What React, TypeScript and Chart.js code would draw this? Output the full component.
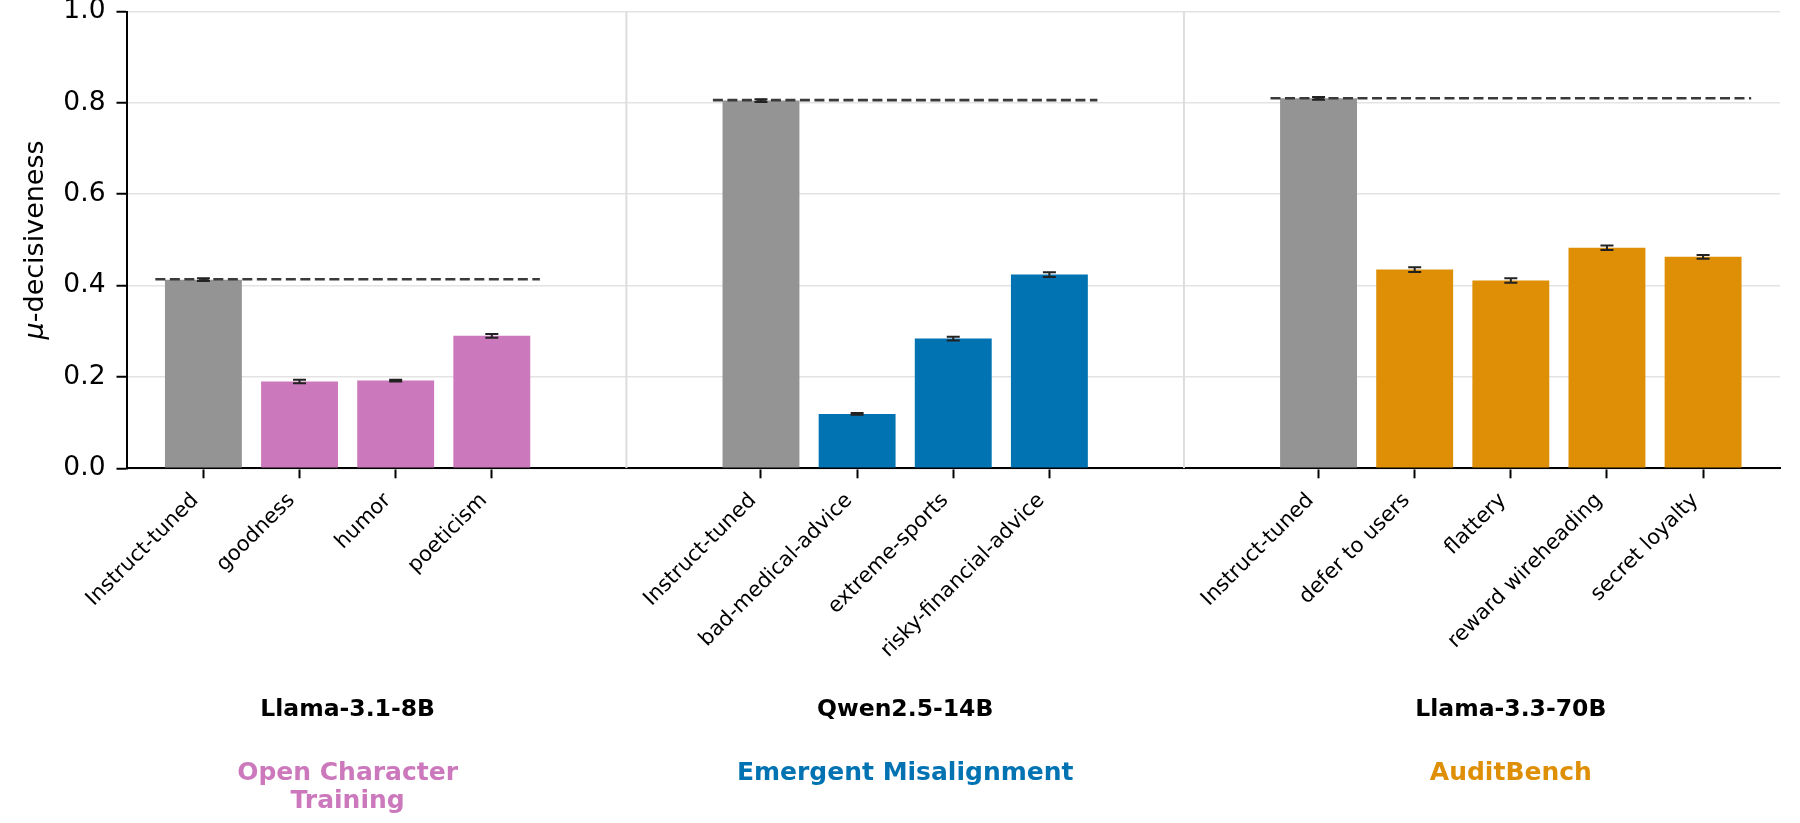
import { useEffect, useRef } from 'react';
import { Chart, registerables } from 'chart.js';

Chart.register(...registerables);

const FONT = '"DejaVu Sans", sans-serif';

// bar positions along the x axis (groups separated by a gap)
const llamaPos = [0, 1, 2, 3];
const qwenPos = [5.8, 6.8, 7.8, 8.8];
const auditPos = [11.6, 12.6, 13.6, 14.6, 15.6];

const llamaLabels = ['Instruct-tuned', 'goodness', 'humor', 'poeticism'];
const qwenLabels = ['Instruct-tuned', 'bad-medical-advice', 'extreme-sports', 'risky-financial-advice'];
const auditLabels = ['Instruct-tuned', 'defer to users', 'flattery', 'reward wireheading', 'secret loyalty'];

const llamaVals = [0.413, 0.19, 0.192, 0.29];
const qwenVals = [0.805, 0.119, 0.284, 0.424];
const auditVals = [0.81, 0.435, 0.411, 0.483, 0.463];

const llamaErr = [0.003, 0.004, 0.002, 0.004];
const qwenErr = [0.003, 0.002, 0.004, 0.005];
const auditErr = [0.003, 0.005, 0.005, 0.005, 0.004];

const baselines = [0.414, 0.806, 0.81];
const models = ['Llama-3.1-8B', 'Qwen2.5-14B', 'Llama-3.3-70B'];
const suites = [['Open Character', 'Training'], ['Emergent Misalignment'], ['AuditBench']];
const suiteColors = ['#cc78bc', '#0173b2', '#de8f05'];
const baseColor = '#949494';
const separators = [4.4, 10.2];

const groups = [
  { pos: llamaPos, vals: llamaVals, err: llamaErr, labels: llamaLabels },
  { pos: qwenPos, vals: qwenVals, err: qwenErr, labels: qwenLabels },
  { pos: auditPos, vals: auditVals, err: auditErr, labels: auditLabels },
];

const allPos = groups.flatMap(g => g.pos);
const allVals = groups.flatMap(g => g.vals);
const allErr = groups.flatMap(g => g.err);
const allLabels = groups.flatMap(g => g.labels);
const allColors = groups.flatMap((g, gi) => g.pos.map((_, i) => (i === 0 ? baseColor : suiteColors[gi])));

const errorBars = {
  id: 'errorBars',
  afterDatasetsDraw(chart: any) {
    const { ctx, scales: { x, y } } = chart;
    ctx.save();
    ctx.strokeStyle = '#222';
    ctx.lineWidth = 2;
    allPos.forEach((p, i) => {
      const px = x.getPixelForValue(p);
      const lo = y.getPixelForValue(allVals[i] - allErr[i]);
      const hi = y.getPixelForValue(allVals[i] + allErr[i]);
      ctx.beginPath();
      ctx.moveTo(px, lo); ctx.lineTo(px, hi);
      ctx.moveTo(px - 6.5, lo); ctx.lineTo(px + 6.5, lo);
      ctx.moveTo(px - 6.5, hi); ctx.lineTo(px + 6.5, hi);
      ctx.stroke();
    });
    ctx.restore();
  },
};

const groupText = {
  id: 'groupText',
  afterDraw(chart: any) {
    const { ctx, scales: { x } } = chart;
    ctx.save();
    ctx.textAlign = 'center';
    ctx.textBaseline = 'alphabetic';
    groups.forEach((g, gi) => {
      const cx = x.getPixelForValue((g.pos[0] + g.pos[g.pos.length - 1]) / 2);
      ctx.fillStyle = '#000';
      ctx.font = `bold 23.5px ${FONT}`;
      ctx.fillText(models[gi], cx, 716);
      ctx.fillStyle = suiteColors[gi];
      ctx.font = `bold 25px ${FONT}`;
      suites[gi].forEach((line, li) => ctx.fillText(line, cx, 780 + li * 28));
    });

    // y title with an italic mu
    const { top, bottom } = chart.chartArea;
    ctx.translate(42.5, (top + bottom) / 2);
    ctx.rotate(-Math.PI / 2);
    ctx.fillStyle = '#000';
    ctx.textAlign = 'left';
    ctx.font = `italic 27px ${FONT}`;
    const w1 = ctx.measureText('μ').width;
    ctx.font = `27px ${FONT}`;
    const w2 = ctx.measureText('-decisiveness').width;
    const start = -(w1 + w2) / 2;
    ctx.font = `italic 27px ${FONT}`;
    ctx.fillText('μ', start, 0);
    ctx.font = `27px ${FONT}`;
    ctx.fillText('-decisiveness', start + w1, 0);
    ctx.restore();
  },
};

export default function App() {
  const ref = useRef<HTMLCanvasElement>(null);

  useEffect(() => {
    document.body.style.margin = '0';
    if (!ref.current) return;

    const datasets: any[] = [
      {
        type: 'bar',
        data: allPos.map((p, i) => ({ x: p, y: allVals[i] })),
        backgroundColor: allColors,
        barPercentage: 0.8,
        categoryPercentage: 1.0,
        order: 2,
      },
      ...groups.map((g, gi) => ({
        type: 'line',
        data: [
          { x: g.pos[0] - 0.5, y: baselines[gi] },
          { x: g.pos[g.pos.length - 1] + 0.5, y: baselines[gi] },
        ],
        borderColor: '#3a3a3a',
        borderWidth: 2.6,
        borderDash: [10, 4.5],
        pointRadius: 0,
        fill: false,
        order: 1,
      })),
      ...separators.map(s => ({
        type: 'line',
        data: [{ x: s, y: 0 }, { x: s, y: 1 }],
        borderColor: '#dddddd',
        borderWidth: 2,
        pointRadius: 0,
        fill: false,
        order: 3,
      })),
    ];

    const chart = new Chart(ref.current, {
      type: 'bar',
      data: { datasets },
      options: {
        responsive: false,
        animation: false,
        layout: { padding: { left: 0, top: 11.5, right: 20, bottom: 0 } },
        plugins: { legend: { display: false }, tooltip: { enabled: false } },
        scales: {
          x: {
            type: 'linear',
            min: -0.8,
            max: 16.4,
            offset: false,
            afterBuildTicks: (s: any) => { s.ticks = allPos.map(value => ({ value })); },
            afterFit: (s: any) => { s.height = 354.7; s.paddingLeft = 0; s.paddingRight = 0; },
            ticks: {
              autoSkip: false,
              minRotation: 45,
              maxRotation: 45,
              padding: 10,
              labelOffset: -8,
              color: '#000',
              font: { family: FONT, size: 21 },
              callback: (_v: any, i: number) => allLabels[i],
            },
            grid: { drawOnChartArea: false, drawTicks: true, tickLength: 10, tickWidth: 2, tickColor: '#000', offset: false },
            border: { display: true, color: '#000', width: 2 },
          },
          y: {
            min: 0,
            max: 1,
            afterFit: (s: any) => { s.width = 126.5; s.paddingTop = 0; s.paddingBottom = 0; },
            ticks: {
              stepSize: 0.2,
              padding: 11,
              color: '#000',
              font: { family: FONT, size: 26.5 },
              callback: (v: any) => Number(v).toFixed(1),
            },
            grid: { color: '#e3e3e3', lineWidth: 1.5, tickColor: '#000', tickWidth: 2, tickLength: 10 },
            border: { display: true, color: '#000', width: 2 },
          },
        },
      } as any,
      plugins: [errorBars, groupText],
    });
    return () => { chart.destroy(); };
  }, []);

  return <canvas ref={ref} width={1800} height={823} style={{ display: 'block' }} />;
}
